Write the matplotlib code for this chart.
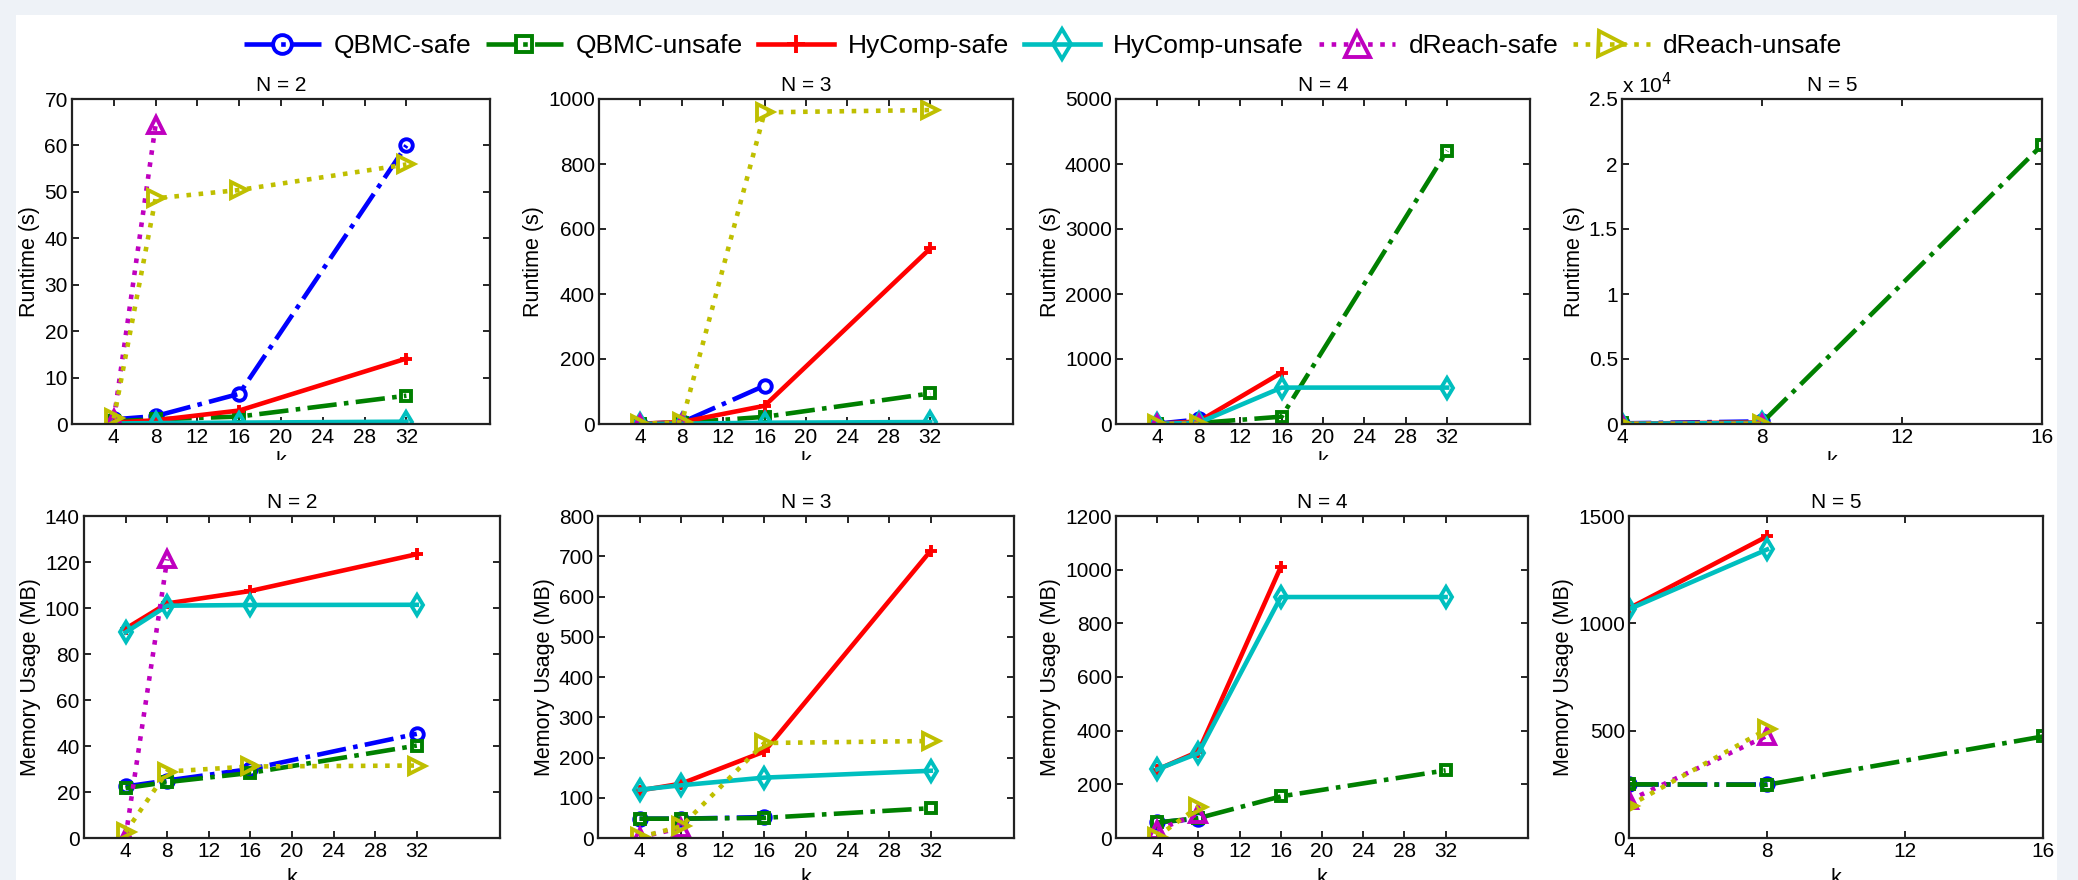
import numpy as np
import matplotlib
matplotlib.use("Agg")
import matplotlib.pyplot as plt
from matplotlib.patches import Rectangle
from matplotlib.ticker import FuncFormatter

plt.rcParams['font.family'] = ['Liberation Sans', 'DejaVu Sans']

# x values (bound k)
k = [4, 8, 16, 32]

names = ["QBMC-safe", "QBMC-unsafe", "HyComp-safe", "HyComp-unsafe",
         "dReach-safe", "dReach-unsafe"]

# runtime (s), one list per tool, in the order of names
runtime_n2 = [[1.0, 1.7, 6.5, 60.0],
              [0.6, 1.0, 1.6, 6.1],
              [0.3, 0.8, 2.9, 14.1],
              [0.1, 0.2, 0.3, 0.5],
              [1.0, 64.4],
              [1.2, 48.6, 50.4, 55.9]]
runtime_n3 = [[1, 5, 118],
              [1, 4, 22, 94],
              [1, 6, 56, 540],
              [0.5, 1, 4, 6],
              [1, 3],
              [1, 5, 959, 966]]
runtime_n4 = [[5, 70],
              [2, 15, 113, 4205],
              [3, 40, 790],
              [2, 20, 560, 560],
              [2, 5],
              [2, 5]]
runtime_n5 = [[50, 200],
              [40, 100, 21460],
              [30, 120],
              [20, 80],
              [10, 20],
              [10, 20]]

# memory usage (MB)
memory_n2 = [[22.4, 25.0, 30.0, 45.3],
             [21.7, 24.3, 28.3, 40.2],
             [91.0, 102.0, 107.4, 123.4],
             [89.4, 101.0, 101.3, 101.4],
             [0.5, 121.2],
             [2.6, 28.9, 31.1, 31.5]]
memory_n3 = [[48, 48, 52],
             [48, 48, 50, 74],
             [118, 135, 215, 714],
             [120, 131, 150, 167],
             [2, 25],
             [2, 29, 236, 241]]
memory_n4 = [[58, 72],
             [58, 74, 155, 252],
             [255, 322, 1010],
             [256, 316, 898, 898],
             [30, 90],
             [5, 117]]
memory_n5 = [[252, 252],
             [250, 248, 473],
             [1070, 1405],
             [1066, 1344],
             [175, 476],
             [150, 507]]

colors = ['b', (0, 0.5, 0), 'r', (0, 0.75, 0.75), (0.75, 0, 0.75), (0.75, 0.75, 0)]
styles = ['-.', '-.', '-', '-', ':', ':']
markers = ['o', 's', '+', 'd', '^', '>']
msizes = [9, 7.5, 9, 10, 12, 12]

fig = plt.figure(figsize=(20.78, 8.8), dpi=100)
fig.patch.set_facecolor('#eef2f7')
fig.add_artist(Rectangle((16 / 2078, 0), 2041 / 2078, 865 / 880,
                         transform=fig.transFigure, facecolor='white',
                         edgecolor='none', zorder=-10))

W, H = 2078.0, 880.0
top_cols = [(72, 490), (599, 1013), (1116, 1530), (1622, 2042)]
bot_cols = [(84, 500), (598, 1014), (1116, 1528), (1629, 2043)]

panels = [
    (runtime_n2, top_cols[0], (99, 424), 70, 10, "Runtime (s)", "N = 2", False),
    (runtime_n3, top_cols[1], (99, 424), 1000, 200, "Runtime (s)", "N = 3", False),
    (runtime_n4, top_cols[2], (99, 424), 5000, 1000, "Runtime (s)", "N = 4", False),
    (runtime_n5, top_cols[3], (99, 424), 25000, 5000, "Runtime (s)", "N = 5", True),
    (memory_n2, bot_cols[0], (516, 838), 140, 20, "Memory Usage (MB)", "N = 2", False),
    (memory_n3, bot_cols[1], (516, 838), 800, 100, "Memory Usage (MB)", "N = 3", False),
    (memory_n4, bot_cols[2], (516, 838), 1200, 200, "Memory Usage (MB)", "N = 4", False),
    (memory_n5, bot_cols[3], (516, 838), 1500, 500, "Memory Usage (MB)", "N = 5", True),
]

handles = []
for i, (data, (x0, x1), (y0, y1), ymax, ystep, ylab, title, n5) in enumerate(panels):
    ax = fig.add_axes([x0 / W, 1 - y1 / H, (x1 - x0) / W, (y1 - y0) / H])
    for j, ys in enumerate(data):
        line, = ax.plot(k[:len(ys)], ys, linestyle=styles[j], color=colors[j],
                        lw=3.3, marker=markers[j], ms=msizes[j], mfc='none',
                        mew=2.8, label=names[j])
        if i == 0:
            handles.append(line)
    if n5:
        ax.set_xlim(4, 16)
        ax.set_xticks([4, 8, 12, 16])
    else:
        ax.set_xlim(0, 40)
        ax.set_xticks([4, 8, 12, 16, 20, 24, 28, 32])
    ax.set_ylim(0, ymax)
    ax.set_yticks(np.arange(0, ymax + 1, ystep))
    if ymax == 25000:
        ax.yaxis.set_major_formatter(FuncFormatter(lambda v, p: f"{v / 1e4:g}"))
        ax.text(0, 1.005, r"x 10$^4$", transform=ax.transAxes, fontsize=15,
                ha='left', va='bottom')
    else:
        ax.yaxis.set_major_formatter(FuncFormatter(lambda v, p: f"{v:g}"))
    ax.tick_params(direction='in', top=True, right=True, length=5, width=1.2,
                   labelsize=15, pad=3)
    for s in ax.spines.values():
        s.set_linewidth(1.6)
        s.set_color('#222222')
    ax.set_title(title, fontsize=15, pad=6)
    ax.set_ylabel(ylab, fontsize=15.5, labelpad=3)
    ax.set_xlabel("k", fontsize=15.5, labelpad=3 if i < 4 else 5)

# the top figure is cut just below its tick labels
fig.add_artist(Rectangle((0, 1 - 484 / H), 1, 24 / H, transform=fig.transFigure,
                         facecolor='white', edgecolor='none', zorder=10))
fig.add_artist(Rectangle((0, 1 - 484 / H), 16 / W, 24 / H, transform=fig.transFigure,
                         facecolor='#eef2f7', edgecolor='none', zorder=11))
fig.add_artist(Rectangle((2057 / W, 1 - 484 / H), 21 / W, 24 / H, transform=fig.transFigure,
                         facecolor='#eef2f7', edgecolor='none', zorder=11))

fig.legend(handles, names, loc='center', bbox_to_anchor=(1043 / W, 1 - 46 / H),
           ncol=6, frameon=False, fontsize=19, handlelength=2.9,
           handletextpad=0.5, columnspacing=0.56, markerscale=1.5)

fig.savefig("out.png", dpi=100, facecolor=fig.get_facecolor())
